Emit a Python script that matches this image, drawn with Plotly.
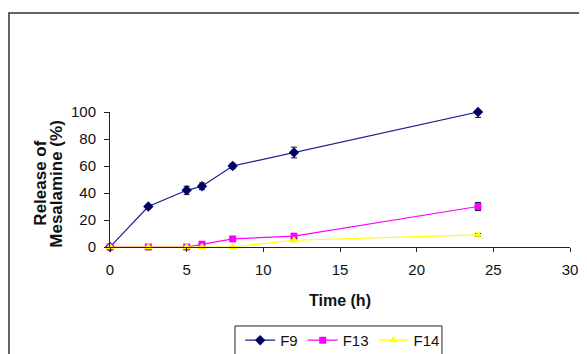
import plotly.graph_objects as go

time_h = [0, 2.5, 5, 6, 8, 12, 24]
f9 = [0, 30, 42, 45, 60, 70, 100]
f9_err = [0, 1, 3, 2.5, 2, 4, 4]
f13 = [0, 0, 0, 2, 6, 8, 30]
f13_err = [0, 0, 0, 0.5, 0.5, 1, 3]
f14 = [0, 0, 0, 0, 0, 5, 9]
f14_err = [0, 0, 0, 0, 0, 1, 1]

x_ticks = [0, 5, 10, 15, 20, 25, 30]
y_ticks = [0, 20, 40, 60, 80, 100]

FONT = "Liberation Sans, Arial, sans-serif"

fig = go.Figure()
series = [
    ("F9", f9, f9_err, "#1c1c8c", "#000066", "diamond", 8),
    ("F13", f13, f13_err, "#ff00ff", "#ff00ff", "square", 7),
    ("F14", f14, f14_err, "#ffff00", "#ffff00", "triangle-up", 8),
]
for name, ys, err, lc, mc, sym, ms in series:
    fig.add_trace(go.Scatter(
        x=time_h, y=ys, name=name, mode="lines+markers",
        line=dict(color=lc, width=1.2),
        marker=dict(symbol=sym, size=ms, color=mc),
        error_y=dict(type="data", array=err, visible=True, color="#111133",
                     thickness=1, width=3),
        cliponaxis=False,
    ))

# page body has an 8px offset; margins compensate so the plot sits where the reference has it
fig.update_layout(
    width=587, height=354,
    margin=dict(l=102, r=25, t=104, b=115, autoexpand=False),
    paper_bgcolor="white", plot_bgcolor="white",
    font=dict(family=FONT, size=15, color="#111111"),
    showlegend=True,
    legend=dict(orientation="h", x=0.283, y=-0.570, xanchor="left", yanchor="top",
                bgcolor="rgba(0,0,0,0)", borderwidth=0, font=dict(size=15, family=FONT),
                itemwidth=30, tracegroupgap=0),
    xaxis=dict(range=[0, 30], tickvals=x_ticks, showgrid=False, zeroline=False,
               showline=True, linecolor="#222222", linewidth=1,
               ticks="outside", ticklen=4, tickcolor="#222222", automargin=False,
               tickfont=dict(size=15), ticklabelstandoff=5,
               title=dict(text="<b>Time (h)</b>", font=dict(size=16, family=FONT), standoff=17)),
    yaxis=dict(range=[0, 100], tickvals=y_ticks, showgrid=False, zeroline=False,
               showline=True, linecolor="#222222", linewidth=1,
               ticks="outside", ticklen=5, tickcolor="#222222", automargin=False,
               tickfont=dict(size=15), ticklabelstandoff=5),
)

# y-axis title (two rotated lines, placed like the reference)
for txt, xp in [("<b>Release of</b>", -0.152), ("<b>Mesalamine (%)</b>", -0.117)]:
    fig.add_annotation(text=txt, xref="paper", yref="paper", x=xp, y=0.47,
                       xanchor="center", yanchor="middle", textangle=-90,
                       showarrow=False, font=dict(size=17, family=FONT, color="#111111"))

# outer frame
fig.add_shape(type="rect", xref="paper", yref="paper",
              x0=-0.2196, x1=1.2, y0=-1.0, y1=1.733,
              line=dict(color="#333333", width=1.5), layer="below")
# legend box
fig.add_shape(type="rect", xref="paper", yref="paper",
              x0=0.2717, x1=0.7217, y0=-0.90, y1=-0.585,
              line=dict(color="#222222", width=1), layer="below")

fig.write_html("out.html")
